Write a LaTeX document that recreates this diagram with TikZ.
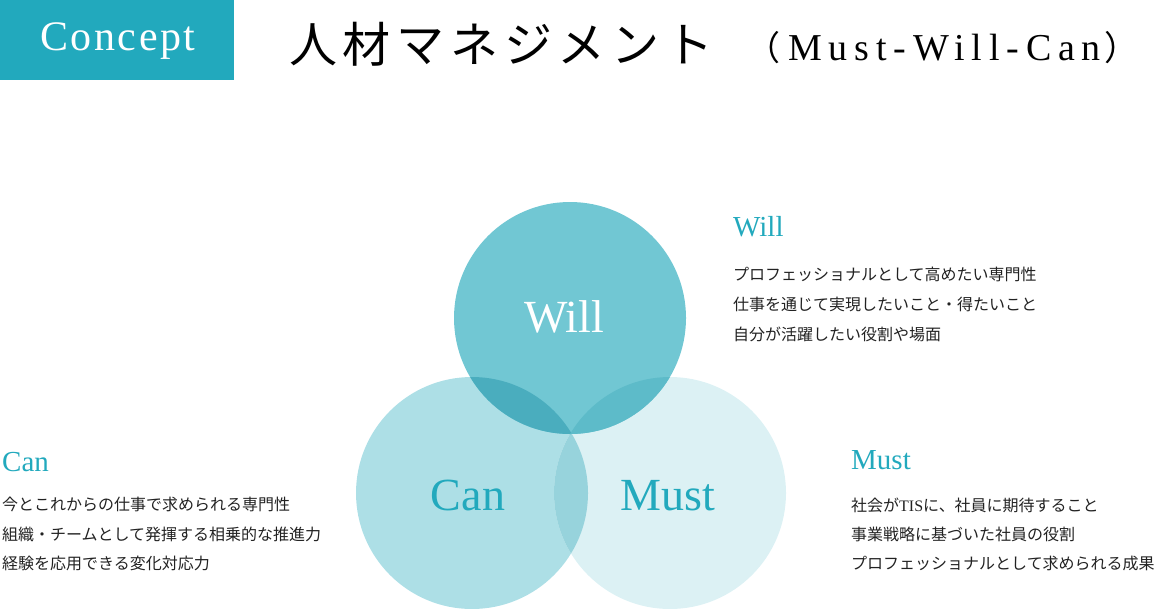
\documentclass[tikz,border=0pt]{standalone}
\usepackage{fontspec}
\setmainfont{Liberation Serif}
\newfontfamily\jpfont{Noto Sans CJK JP}
\newfontfamily\jptitle[LetterSpace=12]{Noto Sans CJK JP}
\newfontfamily\jpbody{Noto Sans CJK JP}
\newfontfamily\enconcept[LetterSpace=6]{Liberation Serif}
\newfontfamily\entitle[LetterSpace=18]{Liberation Serif}
\usepackage{tikz}
\usetikzlibrary{positioning}

\definecolor{teal}{HTML}{22A9BD}
\definecolor{bodygray}{HTML}{222222}
\definecolor{willfill}{HTML}{71C7D3}
\definecolor{canfill}{HTML}{ADDFE6}
\definecolor{mustfill}{HTML}{DCF1F4}
\definecolor{willcan}{HTML}{4AADBE}
\definecolor{willmust}{HTML}{5DBBC9}
\definecolor{canmust}{HTML}{97D3DC}

\begin{document}
\begin{tikzpicture}[x=1pt, y=-1pt,
headnode/.style={anchor=base west, inner sep=0pt, text=teal, font=\fontsize{29}{29}\selectfont},
bodynode/.style={anchor=base west, inner sep=0pt, text=bodygray, font=\jpbody\fontsize{16}{16}\selectfont},
circlenode/.style={circle, minimum size=232pt, inner sep=0pt, outer sep=0pt},
circlelabel/.style={anchor=base, inner sep=0pt, font=\fontsize{46}{46}\selectfont},
]
\useasboundingbox (0,0) rectangle (1158,608);

%Title
\fill[teal] (0,0) rectangle (234,80);
\node[anchor=base, inner sep=0pt, text=white, font=\enconcept\fontsize{42}{42}\selectfont] (Concept) at (118,50) {Concept};
\node[anchor=base west, inner sep=0pt, font=\jptitle\fontsize{48}{48}\selectfont] (Title) at (289,62) {人材マネジメント};
\node[anchor=base west, inner sep=0pt, font=\jpfont\fontsize{34}{34}\selectfont] (Subtitle) at (746,60) {（\hspace{8pt}{\entitle\fontsize{38}{38}\selectfont Must-Will-Can}\hspace{4pt}）};

%Circles
\node[circlenode, fill=canfill]   (Can)  at (472,493) {};
\node[circlenode, fill=mustfill]  (Must) at (670,493) {};
\begin{scope}
\clip (Can.center) circle (116pt);
\fill[canmust] (Must.center) circle (116pt);
\end{scope}
\node[circlenode, fill=willfill]  (Will) at (570,318) {};
\begin{scope}
\clip (Will.center) circle (116pt);
\fill[willcan] (Can.center) circle (116pt);
\fill[willmust] (Must.center) circle (116pt);
\end{scope}

%Circle labels
\node[circlelabel, text=white] (WillLabel) at (564,332) {Will};
\node[circlelabel, text=teal]  (CanLabel)  at (468,510) {Can};
\node[circlelabel, text=teal]  (MustLabel) at (668,510) {Must};

%Will
\node[headnode] (WillHead) at (733,236) {Will};
\node[bodynode] (Will1) at ([yshift=-44pt]WillHead.base west) {プロフェッショナルとして高めたい専門性};
\node[bodynode] (Will2) at ([yshift=-30pt]Will1.base west) {仕事を通じて実現したいこと・得たいこと};
\node[bodynode] (Will3) at ([yshift=-30pt]Will2.base west) {自分が活躍したい役割や場面};

%Can
\node[headnode] (CanHead) at (2,471) {Can};
\node[bodynode] (Can1) at ([yshift=-39pt]CanHead.base west) {今とこれからの仕事で求められる専門性};
\node[bodynode] (Can2) at ([yshift=-30pt]Can1.base west) {組織・チームとして発揮する相乗的な推進力};
\node[bodynode] (Can3) at ([yshift=-29pt]Can2.base west) {経験を応用できる変化対応力};

%Must
\node[headnode] (MustHead) at (851,469.5) {Must};
\node[bodynode] (Must1) at ([yshift=-41.5pt]MustHead.base west) {社会が{\rmfamily TIS}に、社員に期待すること};
\node[bodynode] (Must2) at ([yshift=-29pt]Must1.base west) {事業戦略に基づいた社員の役割};
\node[bodynode] (Must3) at ([yshift=-29pt]Must2.base west) {プロフェッショナルとして求められる成果};
\end{tikzpicture}
\end{document}
